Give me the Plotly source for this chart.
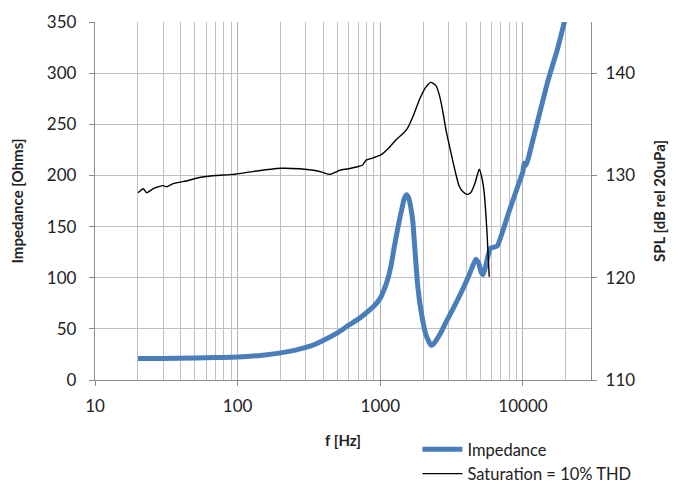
import plotly.graph_objects as go

# Impedance curve (left axis, Ohms)
imp_f = [20, 30, 50, 70, 100, 150, 200, 250, 300, 350, 417, 500, 607, 700, 795, 900, 1000, 1060, 1125, 1190, 1253, 1359, 1420, 1472, 1530,
         1580, 1630, 1690, 1760, 1830, 1927, 2080, 2200, 2262, 2350, 2600, 2876, 3300, 3760, 4200, 4670, 4900,
         5100, 5250, 5450, 5700, 5940, 6300, 6600, 8000, 9500, 10000, 10200, 10500, 12000, 15000, 17500, 20000]
imp_z = [21, 21, 21.5, 22, 22.5, 24.3, 26.5, 29, 31.8, 35, 40, 46, 54, 59.5, 65.5, 72, 80, 88, 98, 112, 130, 156, 168, 177.5, 181,
         178, 170, 155, 122, 92, 68, 45, 37, 34, 35, 44, 56, 72, 88, 103, 118, 114,
         105, 103, 110, 122, 129, 130, 131, 165, 195, 204, 212, 210, 240, 293, 324, 356]

# Saturation SPL curve (right axis, dB)
spl_f = [20, 21.8, 23, 25.6, 28, 30, 31.7, 35.3, 45, 54, 70, 93, 130, 200, 272, 340, 395, 440, 490,
         516, 600, 691, 750, 795, 883, 1010, 1150, 1290, 1420, 1550, 1700, 1880, 2080, 2262, 2450, 2600,
         2730, 2900, 3130, 3350, 3560, 3800, 4050, 4300, 4600, 4800, 4940, 5150, 5350, 5600, 5800]
spl_db = [128.3, 128.7, 128.3, 128.7, 128.9, 129.0, 128.9, 129.2, 129.5, 129.8, 130.0, 130.1, 130.4, 130.7, 130.65, 130.5, 130.3, 130.1, 130.35,
          130.5, 130.65, 130.85, 131.0, 131.5, 131.7, 132.0, 132.7, 133.5, 134.0, 134.6, 135.8, 137.4, 138.6, 139.1, 138.8, 137.8,
          136.4, 134.3, 132.2, 130.4, 129.0, 128.4, 128.15, 128.3, 129.2, 130.1, 130.6, 129.8, 128.3, 124.4, 120.1]

x_major = [10, 100, 1000, 10000]
x_major_text = ["10", "100", "1000", "10000"]
x_minor = [m * d for d in [10, 100, 1000, 10000] for m in range(2, 10) if m * d <= 30000]

FONT = "Lato, Liberation Sans, sans-serif"
GRID = "#c0c0c0"
AXIS = "#8c8c8c"

fig = go.Figure()
fig.add_trace(go.Scatter(x=imp_f, y=imp_z, mode="lines", name="Impedance",
                         line=dict(color="#4a7ebb", width=5, shape="spline", smoothing=0.5)))
fig.add_trace(go.Scatter(x=spl_f, y=spl_db, mode="lines", name="Saturation = 10% THD", yaxis="y2",
                         line=dict(color="#000000", width=1.4, shape="spline", smoothing=0.5)))

fig.update_layout(
    width=672, height=477,
    margin=dict(l=87, r=89, t=14, b=105, autoexpand=False),
    paper_bgcolor="white", plot_bgcolor="white",
    font=dict(family=FONT, size=17, color="#222"),
    showlegend=True,
    legend=dict(x=0.65, y=-0.145, xanchor="left", yanchor="top", bgcolor="rgba(0,0,0,0)",
                font=dict(size=16.5, family=FONT), tracegroupgap=0, itemwidth=40),
    xaxis=dict(type="log", range=[1, 4.477], tickvals=x_major, ticktext=x_major_text,
               showgrid=True, gridcolor="#b0b0b0", gridwidth=1, automargin=False,
               showline=True, linecolor=AXIS, linewidth=1.3, mirror=False,
               ticks="outside", ticklen=5, tickcolor=AXIS, ticklabelstandoff=5,
               minor=dict(tickvals=x_minor, showgrid=True, gridcolor=GRID, gridwidth=1, ticks=""),
               title=dict(text="<b>f [Hz]</b>", font=dict(size=15, family=FONT), standoff=20),
               zeroline=False),
    yaxis=dict(range=[0, 350], dtick=50, showgrid=True, gridcolor=GRID, gridwidth=1, automargin=False,
               showline=True, linecolor=AXIS, linewidth=1.3, ticklabelstandoff=9,
               ticks="outside", ticklen=5, tickcolor=AXIS, zeroline=False,
               title=dict(text="<b>Impedance [Ohms]</b>", font=dict(size=15, family=FONT), standoff=20)),
    yaxis2=dict(range=[110, 145], tickvals=[110, 120, 130, 140], overlaying="y", side="right",
                showgrid=False, showline=True, linecolor=AXIS, linewidth=1.3, automargin=False,
                ticks="outside", ticklen=5, tickcolor=AXIS, zeroline=False, ticklabelstandoff=5,
                title=dict(text="<b>SPL [dB rel 20uPa]</b>", font=dict(size=15, family=FONT), standoff=20)),
)

fig.write_html("out.html")
